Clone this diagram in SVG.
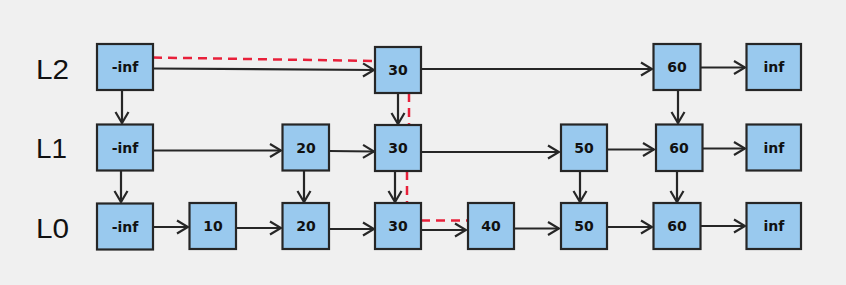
<svg xmlns="http://www.w3.org/2000/svg" width="846" height="285" viewBox="0 0 846 285">
<defs>
<style>
.bg{fill:#f0f0f0}
.box rect{fill:#99c9ee;stroke:#262626;stroke-width:2.2}
.box text{font-family:"DejaVu Sans",sans-serif;font-weight:bold;font-size:14px;fill:#111;text-anchor:middle}
.lvl{font-family:"Liberation Sans",Arial,sans-serif;font-size:27px;fill:#111}
.arr{stroke:#262626;stroke-width:2.2;fill:none;marker-end:url(#ah)}
.red{stroke:#e8203a;stroke-width:2.5;fill:none;stroke-dasharray:9 6}
</style>
<marker id="ah" markerUnits="userSpaceOnUse" viewBox="-13 -8 15 16" refX="0" refY="0" markerWidth="15" markerHeight="16" orient="auto">
<path d="M-11,-6.5 L0,0 L-11,6.5" fill="none" stroke="#262626" stroke-width="2.2"/>
</marker>
</defs>
<rect class="bg" x="0" y="0" width="846" height="285"/>
<text class="lvl" x="36" y="79" textLength="33" lengthAdjust="spacingAndGlyphs">L2</text>
<text class="lvl" x="36" y="158" textLength="31" lengthAdjust="spacingAndGlyphs">L1</text>
<text class="lvl" x="36" y="238" textLength="33" lengthAdjust="spacingAndGlyphs">L0</text>
<g id="connectors">
<path class="red" d="M153,57.5 L375,61"/>
<path class="red" d="M409,93 L409,125"/>
<path class="red" d="M407,171 L407,203"/>
<path class="red" d="M421,220.5 L468,220.5"/>
<path class="arr" d="M153,68.5 L374,70"/>
<path class="arr" d="M421,69 L652,69"/>
<path class="arr" d="M700,67.5 L745,67.5"/>
<path class="arr" d="M122,90 L122,123"/>
<path class="arr" d="M398,93 L398,124"/>
<path class="arr" d="M678,90 L678,123"/>
<path class="arr" d="M153,150.5 L281,150.5"/>
<path class="arr" d="M329,151 L374,151.5"/>
<path class="arr" d="M421,152 L559,152"/>
<path class="arr" d="M607,149.5 L654,149.5"/>
<path class="arr" d="M702,148.5 L745,148.5"/>
<path class="arr" d="M121,171 L121,202"/>
<path class="arr" d="M304,171 L304,202"/>
<path class="arr" d="M395,171 L395,202"/>
<path class="arr" d="M580,171 L580,202"/>
<path class="arr" d="M677,171 L677,202"/>
<path class="arr" d="M153,227 L188,227"/>
<path class="arr" d="M236,228 L281,228"/>
<path class="arr" d="M329,229 L374,229"/>
<path class="arr" d="M420,230 L466,230"/>
<path class="arr" d="M514,228.5 L559,228.5"/>
<path class="arr" d="M607,227 L652,227"/>
<path class="arr" d="M700,226 L745,226"/>
</g>
<g id="n-l2-neginf" class="box"><rect x="97" y="44" width="56" height="46"/><text x="125" y="72">-inf</text></g>
<g id="n-l2-30" class="box"><rect x="375" y="47" width="46" height="46"/><text x="398" y="75">30</text></g>
<g id="n-l2-60" class="box"><rect x="653.5" y="44" width="47" height="46"/><text x="677" y="72">60</text></g>
<g id="n-l2-inf" class="box"><rect x="746.5" y="44" width="54.5" height="46"/><text x="774" y="72">inf</text></g>
<g id="n-l1-neginf" class="box"><rect x="97" y="124.5" width="56" height="46"/><text x="125" y="152.5">-inf</text></g>
<g id="n-l1-20" class="box"><rect x="282.5" y="124.5" width="46.5" height="46"/><text x="306" y="152.5">20</text></g>
<g id="n-l1-30" class="box"><rect x="375" y="125" width="46" height="46"/><text x="398" y="153">30</text></g>
<g id="n-l1-50" class="box"><rect x="561" y="124.5" width="46" height="46.5"/><text x="584" y="152.5">50</text></g>
<g id="n-l1-60" class="box"><rect x="656" y="124.5" width="46.5" height="46.5"/><text x="679" y="152.5">60</text></g>
<g id="n-l1-inf" class="box"><rect x="746.5" y="124.5" width="54.5" height="46"/><text x="774" y="152.5">inf</text></g>
<g id="n-l0-neginf" class="box"><rect x="97" y="203.5" width="56" height="46"/><text x="125" y="231.5">-inf</text></g>
<g id="n-l0-10" class="box"><rect x="189.5" y="203" width="46.5" height="46"/><text x="213" y="231">10</text></g>
<g id="n-l0-20" class="box"><rect x="282.5" y="203" width="46.5" height="46"/><text x="306" y="231">20</text></g>
<g id="n-l0-30" class="box"><rect x="375" y="203" width="46" height="46"/><text x="398" y="231">30</text></g>
<g id="n-l0-40" class="box"><rect x="468" y="203" width="46" height="46"/><text x="491" y="231">40</text></g>
<g id="n-l0-50" class="box"><rect x="561" y="203" width="46" height="46"/><text x="584" y="231">50</text></g>
<g id="n-l0-60" class="box"><rect x="653.5" y="203" width="47" height="46"/><text x="677" y="231">60</text></g>
<g id="n-l0-inf" class="box"><rect x="746.5" y="203" width="54.5" height="46"/><text x="774" y="231">inf</text></g>
</svg>
